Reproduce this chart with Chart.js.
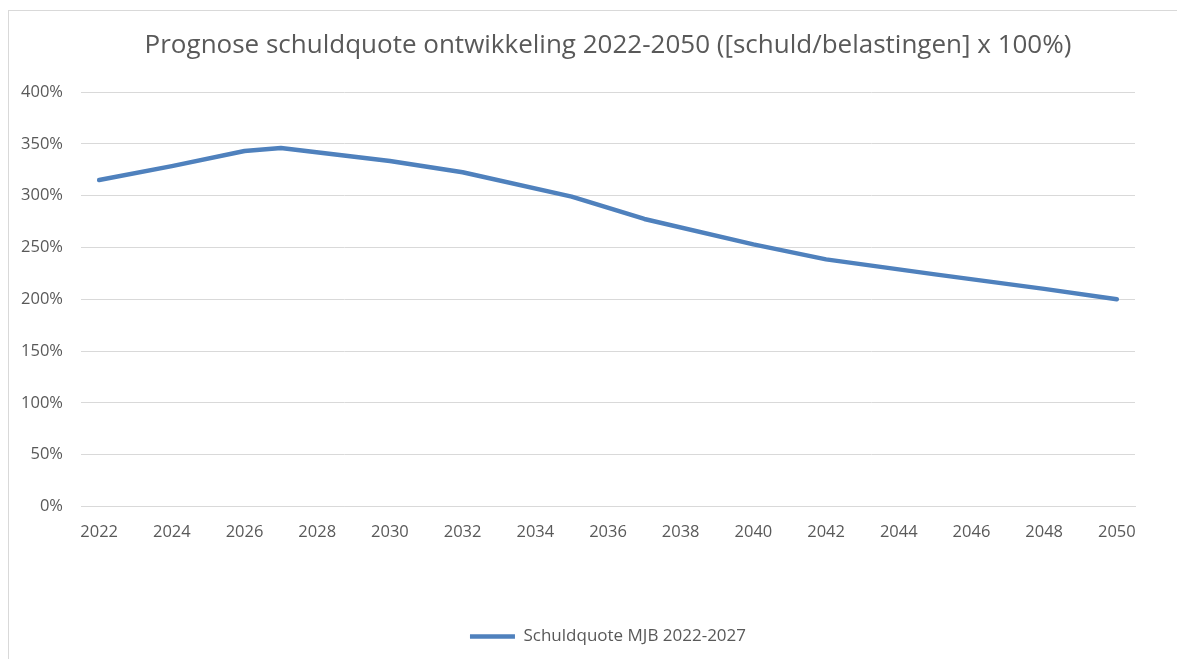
<!DOCTYPE html>
<html>
<head>
<meta charset="utf-8">
<script src="https://cdn.jsdelivr.net/npm/chart.js@4/dist/chart.umd.min.js"></script>
<style>
  html, body { margin: 0; padding: 0; background: #ffffff; overflow: hidden; }
  #wrap { position: relative; width: 1177px; height: 659px; }
  #frame {
    position: absolute; left: 8px; top: 10px; width: 1300px; height: 800px;
    border-left: 1px solid #d9d9d9; border-top: 1px solid #d9d9d9;
    pointer-events: none;
  }
</style>
</head>
<body>
<div id="wrap">
  <canvas id="chart" width="1177" height="659"></canvas>
  <div id="frame"></div>
</div>
<script>
// categorie-as: alle jaren, labels om de 2 jaar
const tickYears = [
  "2022", "2023", "2024", "2025", "2026", "2027", "2028", "2029", "2030",
  "2031", "2032", "2033", "2034", "2035", "2036", "2037", "2038", "2039",
  "2040", "2041", "2042", "2043", "2044", "2045", "2046", "2047", "2048",
  "2049", "2050",
];

const pointYears = ["2022", "2024", "2026", "2027", "2030", "2032", "2035", "2037", "2040", "2042", "2045", "2048", "2050"];
const schuldquote = [315, 328.5, 343, 346, 333.5, 322.5, 299, 277.5, 253, 238.5, 224, 210, 200];

const seriesLabel = "Schuldquote MJB 2022-2027";
const chartTitle = "Prognose schuldquote ontwikkeling 2022-2050 ([schuld/belastingen] x 100%)";

const lineColor = "#4f81bd";
const textColor = "#595959";
const gridColor = "#d9d9d9";
const fontFamily = "'Open Sans', 'DejaVu Sans', sans-serif";

const ctx = document.getElementById("chart").getContext("2d");
new Chart(ctx, {
  type: "line",
  data: {
    labels: tickYears,
    datasets: [
      {
        label: seriesLabel,
        data: pointYears.map((yr, i) => ({ x: yr, y: schuldquote[i] })),
        borderColor: lineColor,
        backgroundColor: lineColor,
        borderWidth: 4.5,
        borderCapStyle: "round",
        borderJoinStyle: "round",
        pointRadius: 0,
        pointHoverRadius: 0,
        tension: 0,
        fill: false,
      },
    ],
  },
  options: {
    responsive: false,
    animation: false,
    layout: {
      padding: { left: 0, right: 42, top: 0, bottom: 4 },
    },
    scales: {
      x: {
        type: "category",
        offset: true,
        grid: { display: false, drawTicks: false },
        border: { display: true, color: gridColor, width: 1 },
        ticks: {
          color: textColor,
          font: { family: fontFamily, size: 16.5 },
          padding: 16,
          autoSkip: false,
          maxRotation: 0,
          callback: function (val, i) {
            return i % 2 === 0 ? tickYears[i] : "";
          },
        },
        afterFit: function (scale) {
          scale.height = 111.5;
        },
      },
      y: {
        min: 0,
        max: 400,
        grid: { color: gridColor, lineWidth: 1, drawTicks: false },
        border: { display: false },
        ticks: {
          stepSize: 50,
          color: textColor,
          font: { family: fontFamily, size: 16.5 },
          padding: 18,
          callback: function (v) {
            return v + "%";
          },
        },
        afterFit: function (scale) {
          scale.width = 81;
        },
      },
    },
    plugins: {
      title: {
        display: true,
        fullSize: false,
        text: chartTitle,
        color: textColor,
        font: { family: fontFamily, size: 26, weight: "normal" },
        padding: { top: 30.4, bottom: 30.4 },
      },
      legend: {
        position: "bottom",
        fullSize: false,
        labels: {
          color: textColor,
          font: { family: fontFamily, size: 17 },
          usePointStyle: true,
          pointStyle: "line",
          pointStyleWidth: 45,
          padding: 10,
        },
      },
      tooltip: { enabled: false },
    },
  },
});
</script>
</body>
</html>
